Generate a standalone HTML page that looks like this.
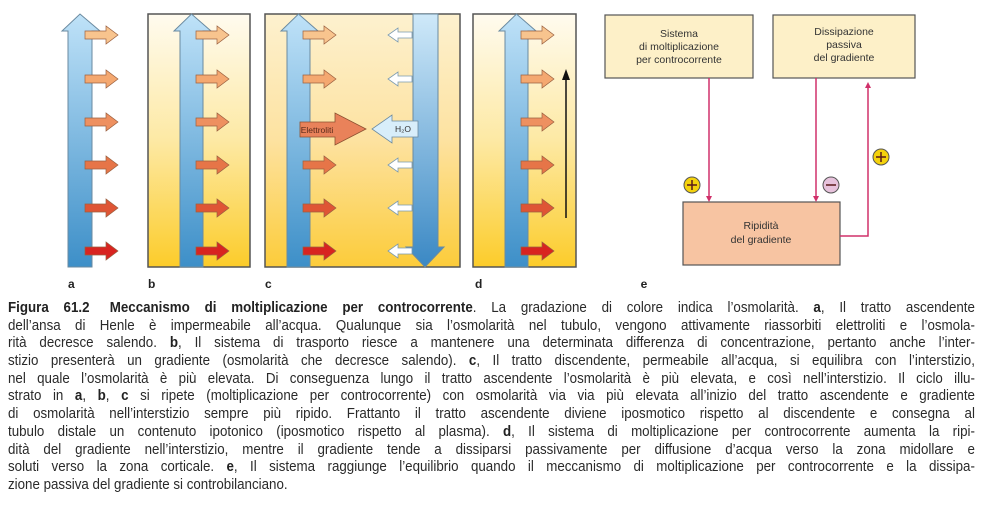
<!DOCTYPE html>
<html><head><meta charset="utf-8">
<style>
body{margin:0;background:#fff;width:989px;height:519px;overflow:hidden;position:relative;font-family:"Liberation Sans",sans-serif;}
#fig{position:absolute;left:0;top:0;}
#cap{position:absolute;left:8px;top:300px;width:1051px;font-size:14.5px;color:#2a2a2a;transform:scaleX(0.92);transform-origin:0 0;}
#cap div{height:17.7px;line-height:17.7px;white-space:nowrap;text-align:justify;text-align-last:justify;}
#cap div.last{text-align-last:left;}
b{color:#222}
.gap{display:inline-block;width:22px;}
</style></head><body>
<svg id="fig" width="989" height="300" viewBox="0 0 989 300">
<defs>
<linearGradient id="bgY" x1="0" y1="0" x2="0" y2="1"><stop offset="0" stop-color="#fffbef"/><stop offset="0.5" stop-color="#fde9a4"/><stop offset="1" stop-color="#fccc2a"/></linearGradient>
<linearGradient id="bgC" x1="0" y1="0" x2="0" y2="1"><stop offset="0" stop-color="#fdf1cf"/><stop offset="0.5" stop-color="#fde2a0"/><stop offset="1" stop-color="#fccc3a"/></linearGradient>
<linearGradient id="upB" x1="0" y1="0" x2="0" y2="1"><stop offset="0" stop-color="#bfe2f8"/><stop offset="1" stop-color="#3d8fc8"/></linearGradient>
<linearGradient id="dnB" x1="0" y1="0" x2="0" y2="1"><stop offset="0" stop-color="#cfe9f9"/><stop offset="1" stop-color="#3a88c4"/></linearGradient>
</defs>
<g id="panels"></g>
<g font-size="10.5" fill="#333" text-anchor="middle">
<rect x="605" y="15" width="148" height="63" fill="#fdf0c8" stroke="#555" stroke-width="1.2"/>
<text x="679" y="37">Sistema</text><text x="679" y="50">di moltiplicazione</text><text x="679" y="63">per controcorrente</text>
<rect x="773" y="15" width="142" height="63" fill="#fdf0c8" stroke="#555" stroke-width="1.2"/>
<text x="844" y="35">Dissipazione</text><text x="844" y="48">passiva</text><text x="844" y="61">del gradiente</text>
<rect x="683" y="202" width="157" height="63" fill="#f7c4a2" stroke="#555" stroke-width="1.2"/>
<text x="761" y="229">Ripidità</text><text x="761" y="243">del gradiente</text>
<g stroke="#d0306a" stroke-width="1.5" fill="none"><path d="M709 78V200"/><path d="M816 78V200"/><path d="M840 236H868V86"/></g>
<g fill="#d0306a"><path d="M706 196L709 202L712 196Z"/><path d="M813 196L816 202L819 196Z"/><path d="M865 88L868 82L871 88Z"/></g>
<circle cx="692" cy="185" r="8" fill="#f4d20c" stroke="#555"/><path d="M687 185h10M692 180v10" stroke="#5a1a1a" stroke-width="1.5"/>
<circle cx="831" cy="185" r="8" fill="#e7c2dc" stroke="#555"/><path d="M826 185h10" stroke="#5a1a1a" stroke-width="1.5"/>
<circle cx="881" cy="157" r="8" fill="#f4d20c" stroke="#555"/><path d="M876 157h10M881 152v10" stroke="#5a1a1a" stroke-width="1.5"/>
<text x="644" y="288" font-size="12" font-weight="bold" fill="#222">e</text>
</g>
</svg>
<div id="cap">
<div><b>Figura&nbsp;61.2<span class="gap"></span>Meccanismo di moltiplicazione per controcorrente</b>. La gradazione di colore indica l’osmolarità. <b>a</b>, Il tratto ascendente</div>
<div>dell’ansa di Henle è impermeabile all’acqua. Qualunque sia l’osmolarità nel tubulo, vengono attivamente riassorbiti elettroliti e l’osmola-</div>
<div>rità decresce salendo. <b>b</b>, Il sistema di trasporto riesce a mantenere una determinata differenza di concentrazione, pertanto anche l’inter-</div>
<div>stizio presenterà un gradiente (osmolarità che decresce salendo). <b>c</b>, Il tratto discendente, permeabile all’acqua, si equilibra con l’interstizio,</div>
<div>nel quale l’osmolarità è più elevata. Di conseguenza lungo il tratto ascendente l’osmolarità è più elevata, e così nell’interstizio. Il ciclo illu-</div>
<div>strato in <b>a</b>, <b>b</b>, <b>c</b> si ripete (moltiplicazione per controcorrente) con osmolarità via via più elevata all’inizio del tratto ascendente e gradiente</div>
<div>di osmolarità nell’interstizio sempre più ripido. Frattanto il tratto ascendente diviene iposmotico rispetto al discendente e consegna al</div>
<div>tubulo distale un contenuto ipotonico (iposmotico rispetto al plasma). <b>d</b>, Il sistema di moltiplicazione per controcorrente aumenta la ripi-</div>
<div>dità del gradiente nell’interstizio, mentre il gradiente tende a dissiparsi passivamente per diffusione d’acqua verso la zona midollare e</div>
<div>soluti verso la zona corticale. <b>e</b>, Il sistema raggiunge l’equilibrio quando il meccanismo di moltiplicazione per controcorrente e la dissipa-</div>
<div class="last">zione passiva del gradiente si controbilanciano.</div>
</div>
<script>
const panelLabels=['a','b','c','d'];
const arrowRows=[35,79,122,165,208,251];
const arrowColors=['#f8c48e','#f4a870','#ee9060','#e67548','#df5535','#d82420'];
const NS='http://www.w3.org/2000/svg';
const g=document.getElementById('panels');
function el(tag,attrs,parent){const e=document.createElementNS(NS,tag);for(const k in attrs)e.setAttribute(k,attrs[k]);(parent||g).appendChild(e);return e;}
function upArrow(x1,x2,parent){const c=(x1+x2)/2;const p=el('path',{d:`M${x1} 267V31H${x1-6}L${c} 14L${x2+8} 31H${x2}V267Z`,fill:'url(#upB)',stroke:'#6a8aa0','stroke-width':1},parent);}
function smallRight(x,y,col,parent){const p=el('path',{d:`M${x} ${y-4}H${x+21}V${y-9}L${x+33} ${y}L${x+21} ${y+9}V${y+4}H${x}Z`,fill:col,stroke:'#9a6040','stroke-width':0.7},parent);}
function smallLeft(x,y,parent){const p=el('path',{d:`M${x} ${y-3}H${x-14}V${y-7}L${x-24} ${y}L${x-14} ${y+7}V${y+3}H${x}Z`,fill:'#fff',stroke:'#7a9ab0','stroke-width':0.8},parent);}
const panels=[{box:null,up:[68,92],lab:68},{box:[148,250],up:[180,203],lab:148},{box:[265,460],up:[287,310],lab:265},{box:[473,576],up:[505,528],lab:475}];
panels.forEach((p,i)=>{
  const pg=el('g',{});
  
  
  if(p.box){el('rect',{x:p.box[0],y:14,width:p.box[1]-p.box[0],height:253,fill:i==2?'url(#bgC)':'url(#bgY)',stroke:'#555','stroke-width':1.5},pg);}
  if(i==2){el('path',{d:'M413 14V247H406L425 267L444 247H438V14Z',fill:'url(#dnB)',stroke:'#6a8aa0','stroke-width':1},pg);
    arrowRows.forEach((y,j)=>{if(j!=2)smallLeft(412,y,pg);});}
  upArrow(p.up[0],p.up[1],pg);
  arrowRows.forEach((y,j)=>{if(!(i==2&&j==2))smallRight(p.up[1]-7,y,arrowColors[j],pg);});
  if(i==2){
    el('path',{d:'M300 122H335V113L366 129L335 145V137H300Z',fill:'#e9825a',stroke:'#8a5030','stroke-width':0.8},pg);
    const t=el('text',{x:317,y:133,'font-size':8.5,fill:'#5a2a1a','text-anchor':'middle'},pg);t.textContent='Elettroliti';
    el('path',{d:'M418 121H392V115L372 129L392 143V137H418Z',fill:'#d8eefa',stroke:'#6a8aa0','stroke-width':0.8},pg);
    const h=el('text',{x:403,y:132,'font-size':8.5,fill:'#333','text-anchor':'middle'},pg);h.textContent='H₂O';
  }
  if(i==3){el('path',{d:'M566 218V78',stroke:'#111','stroke-width':1.5},pg);el('path',{d:'M562 80L566 69L570 80Z',fill:'#111'},pg);}
  const lt=el('text',{x:p.lab,y:288,'font-size':12,'font-weight':'bold',fill:'#222'},pg);lt.textContent=panelLabels[i];
});
</script>
</body></html>
